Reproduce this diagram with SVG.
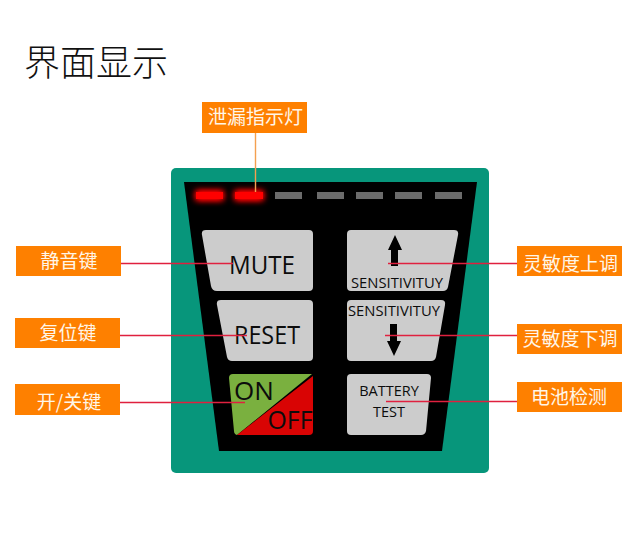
<svg xmlns="http://www.w3.org/2000/svg" width="640" height="543" viewBox="0 0 640 543">
<style>
.lb{fill:#fe8000}
.lt{font-family:"Noto Sans CJK SC","Noto Sans",sans-serif;font-size:19px;font-weight:400;fill:#fff6e8;text-anchor:middle}
.k{fill:#cccccc}
.t{font-family:"Open Sans","Noto Sans",sans-serif;fill:#0c0c0c;text-anchor:middle}
.led{fill:#6b6b6b}
.on{fill:#ff0000}
.c{fill:none;stroke:#e0203f;stroke-width:1.4}
</style>
<defs>
<filter id="g" x="-60%" y="-300%" width="220%" height="700%"><feGaussianBlur stdDeviation="3"/></filter>
<filter id="s" x="-20%" y="-60%" width="140%" height="220%"><feGaussianBlur stdDeviation="0.7"/></filter>
</defs>
<rect width="640" height="543" fill="#fff"/>
<text x="24" y="76" font-family="'Noto Sans CJK SC',sans-serif" font-size="36" font-weight="300" fill="#111">界面显示</text>
<g id="panel">
<rect x="171" y="168" width="318" height="305" rx="5" fill="#07967b"/>
<path d="M184 182H477L442 451H219Z" fill="#000"/>
</g>
<g id="leds">
<rect class="on" x="196" y="191" width="27" height="9" filter="url(#g)"/><rect class="on" x="196" y="191" width="27" height="9" filter="url(#g)"/>
<rect class="on" x="235" y="191" width="28" height="9" filter="url(#g)"/><rect class="on" x="235" y="191" width="28" height="9" filter="url(#g)"/>
<rect class="on" x="196" y="192" width="27" height="7" filter="url(#s)"/><rect class="on" x="235" y="192" width="28" height="7" filter="url(#s)"/>
<rect class="led" x="275" y="192" width="27" height="7"/><rect class="led" x="317" y="192" width="27" height="7"/><rect class="led" x="356" y="192" width="27" height="7"/><rect class="led" x="395" y="192" width="27" height="7"/><rect class="led" x="435" y="192" width="27" height="7"/>
</g>
<g id="mute"><path class="k" d="M206 230H309Q313 230 313 234V287Q313 291 309 291H217Q212 291 211 286L202 235Q201 230 206 230Z"/><text class="t" x="262" y="274" font-size="26" textLength="66" lengthAdjust="spacingAndGlyphs">MUTE</text></g>
<g id="reset"><path class="k" d="M221 300H309Q313 300 313 304V357Q313 361 309 361H232Q228 361 227 357L217 305Q216 300 221 300Z"/><text class="t" x="267" y="344" font-size="26" textLength="66" lengthAdjust="spacingAndGlyphs">RESET</text></g>
<g id="onoff"><path d="M233 374H312L237 435Q234 434 234 431L229 378Q229 374 233 374Z" fill="#7ab03f"/><path d="M313 376V431Q313 435 309 435H237Z" fill="#d90404"/><text class="t" x="254" y="400" font-size="26">ON</text><text class="t" x="290" y="429" font-size="26" textLength="45" lengthAdjust="spacingAndGlyphs">OFF</text></g>
<g id="up"><path class="k" d="M351 230H454Q459 230 458 235L448 287Q447 291 443 291H351Q347 291 347 287V234Q347 230 351 230Z"/><path d="M395 235L402 250H398V266H391V250H388Z" fill="#000"/><text class="t" x="397" y="288" font-size="14.5" textLength="92" lengthAdjust="spacingAndGlyphs">SENSITIVITUY</text></g>
<g id="down"><path class="k" d="M351 300H441Q446 300 445 305L436 357Q435 361 431 361H351Q347 361 347 357V304Q347 300 351 300Z"/><text class="t" x="394" y="316" font-size="14.5" textLength="92" lengthAdjust="spacingAndGlyphs">SENSITIVITUY</text><path d="M390 324H397V341H401L394 356L387 341H390Z" fill="#000"/></g>
<g id="battery"><path class="k" d="M351 374H427Q431 374 431 378L426 431Q425 435 421 435H351Q347 435 347 431V378Q347 374 351 374Z"/><text class="t" x="389" y="396" font-size="14.5">BATTERY</text><text class="t" x="389" y="417" font-size="14.5">TEST</text></g>
<g id="connectors">
<path d="M255.500 133V192" fill="none" stroke="#f4a050" stroke-width="1.4"/>
<path class="c" d="M121 263.500H233M120 335.500H247M120 402.500H245M388 263.500H517M385 335.500H517M386 401.500H517"/>
</g>
<g id="l1"><rect class="lb" x="202" y="102" width="105" height="31"/><text class="lt" x="255.500" y="124">泄漏指示灯</text></g>
<g id="l2"><rect class="lb" x="16" y="246" width="105" height="30"/><text class="lt" x="69" y="268">静音键</text></g>
<g id="l3"><rect class="lb" x="15" y="318" width="105" height="30"/><text class="lt" x="68" y="340">复位键</text></g>
<g id="l4"><rect class="lb" x="15" y="384" width="105" height="31"/><text class="lt" x="69" y="409">开/关键</text></g>
<g id="r1"><rect class="lb" x="517" y="246" width="105" height="30"/><text class="lt" x="570.500" y="271">灵敏度上调</text></g>
<g id="r2"><rect class="lb" x="517" y="324" width="105" height="30"/><text class="lt" x="570" y="346">灵敏度下调</text></g>
<g id="r3"><rect class="lb" x="517" y="382" width="105" height="30"/><text class="lt" x="569" y="404">电池检测</text></g>
</svg>
